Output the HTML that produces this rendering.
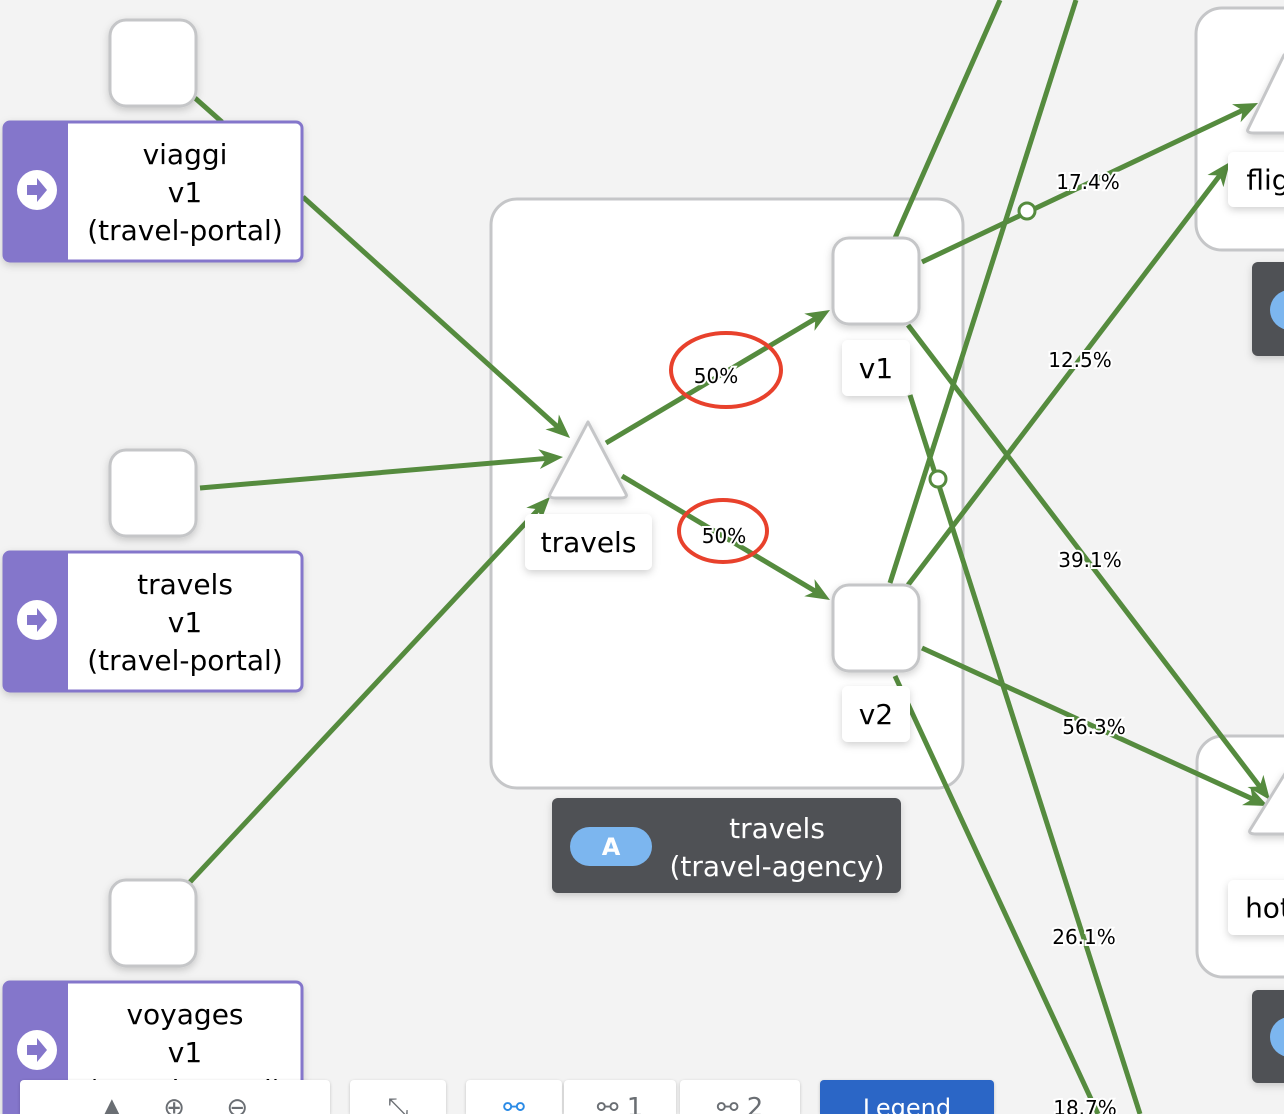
<!DOCTYPE html>
<html><head><meta charset="utf-8"><style>
html,body{margin:0;padding:0;background:#f3f3f3;width:1284px;height:1114px;overflow:hidden;font-family:"DejaVu Sans","Liberation Sans",sans-serif;position:relative}
svg{display:block;position:absolute;left:0;top:0}
.btn{position:absolute;top:1080px;height:34px;background:#fff;border-radius:4px 4px 0 0;box-shadow:0 1px 3px rgba(0,0,0,.2);overflow:hidden;color:#6a6e73;font-size:26px;line-height:56px;text-align:center}
</style></head><body>
<svg id="g" width="1284" height="1114" xmlns="http://www.w3.org/2000/svg">
<defs>
<filter id="sh" x="-20%" y="-20%" width="140%" height="150%"><feDropShadow dx="0" dy="3" stdDeviation="4" flood-color="#000" flood-opacity="0.18"/></filter>
</defs>
<g id="boxes"></g>
<g id="edges"></g>
<g id="nodes"></g>
</svg>
<div class="btn" style="left:20px;width:310px">▲&nbsp;&nbsp;&nbsp;&nbsp;&nbsp;⊕&nbsp;&nbsp;&nbsp;&nbsp;&nbsp;⊖</div>
<div class="btn" style="left:350px;width:96px">⤡</div>
<div class="btn" style="left:466px;width:96px;color:#2b8be6">⚯</div>
<div class="btn" style="left:564px;width:112px">⚯ 1</div>
<div class="btn" style="left:680px;width:120px">⚯ 2</div>
<div class="btn" style="left:820px;width:174px;background:#2b66c6;color:#fff;font-size:24px">Legend</div>
<script>
const NS="http://www.w3.org/2000/svg";
const edgeFrom=[[195,98],[303,197],[200,488],[190,882],[606,443],[622,476],[922,262],[895,238],[890,583],[908,585],[908,325],[922,648],[910,395],[895,676]];
const edgeTo=[[222,122],[570,438],[563,457],[550,497],[830,310],[830,600],[1258,103],[1000,0],[1076,0],[1230,162],[1270,800],[1268,806],[1140,1114],[1098,1114]];
const edgeArrow=[0,1,1,1,1,1,1,0,0,1,1,1,0,0];
const edgeLabels=["","","","","50%","50%","17.4%","","","12.5%","39.1%","56.3%","26.1%","18.7%"];
const labelPos=[[0,0],[0,0],[0,0],[0,0],[716,376],[724,536],[1088,182],[0,0],[0,0],[1080,360],[1090,560],[1094,727],[1084,937],[1085,1108]];
function el(t,a,p,txt){const e=document.createElementNS(NS,t);for(const k in a)e.setAttribute(k,a[k]);if(txt!==undefined)e.textContent=txt;p.appendChild(e);return e;}
const B=document.getElementById('boxes'),E=document.getElementById('edges'),N=document.getElementById('nodes');
let ab=el('rect',{x:491,y:199,width:472,height:589,rx:26,fill:'#fff',stroke:'#c5c6c8','stroke-width':3},B);

let fb=el('rect',{x:1196,y:8,width:120,height:242,rx:26,fill:'#fff',stroke:'#c5c6c8','stroke-width':3},B);

let hb=el('rect',{x:1197,y:736,width:120,height:241,rx:26,fill:'#fff',stroke:'#c5c6c8','stroke-width':3},B);

for(let i=0;i<edgeFrom.length;i++){
 const [x1,y1]=edgeFrom[i],[x2,y2]=edgeTo[i];
 const dx=x2-x1,dy=y2-y1,L=Math.hypot(dx,dy),ux=dx/L,uy=dy/L;
 const ex=edgeArrow[i]?x2-ux*14:x2, ey=edgeArrow[i]?y2-uy*14:y2;
 const l=el('line',{x1:x1,y1:y1,x2:ex,y2:ey,stroke:'#558b3e','stroke-width':5},E);
 
 
 if(edgeArrow[i]){
  const bx=x2-ux*24,by=y2-uy*24,px=-uy,py=ux,nx=x2-ux*17,ny=y2-uy*17;
  const a=el('polygon',{points:`${x2},${y2} ${bx+px*10},${by+py*10} ${nx},${ny} ${bx-px*10},${by-py*10}`,fill:'#558b3e'},E);
  
  
 }
}
[[1027,211],[938,479]].forEach((c,i)=>{const k=el('circle',{cx:c[0],cy:c[1],r:8,fill:'#fff',stroke:'#558b3e','stroke-width':3},E);});
for(let i=0;i<edgeLabels.length;i++){if(!edgeLabels[i])continue;
 const t=el('text',{x:labelPos[i][0],y:labelPos[i][1]+7,'text-anchor':'middle','font-size':20,fill:'#000',stroke:'#fff','stroke-width':4,'paint-order':'stroke'},E,edgeLabels[i]);
 
 
}
el('ellipse',{cx:726,cy:370,rx:55,ry:37,fill:'none',stroke:'#e8412c','stroke-width':4},E);
el('ellipse',{cx:723,cy:531,rx:44,ry:31,fill:'none',stroke:'#e8412c','stroke-width':4},E);
function sq(x,y,name){const r=el('rect',{x:x,y:y,width:86,height:86,rx:16,fill:'#fff',stroke:'#c5c6c8','stroke-width':3,filter:'url(#sh)'},N);}
sq(110,20,'viaggi-workload-node');sq(110,450,'travels-portal-workload-node');sq(110,880,'voyages-workload-node');
sq(833,238,'v1-workload-node');sq(833,585,'v2-workload-node');
function lab(x,y,w,h,lines,name,fs){const g=el('g',{},N);
 el('rect',{x:x,y:y,width:w,height:h,rx:6,fill:'#fff',filter:'url(#sh)'},g);
 lines.forEach((s,i)=>el('text',{x:x+w/2,y:y+h/2+10+(i-(lines.length-1)/2)*38,'text-anchor':'middle','font-size':fs||28,fill:'#000'},g,s));}
function portal(y,lines,name){const g=el('g',{filter:'url(#sh)'},N);
 el('rect',{x:4,y:y,width:298,height:139,rx:6,fill:'#fff',stroke:'#8476cb','stroke-width':3},g);
 el('path',{d:`M10,${y} H68 V${y+139} H10 a6,6 0 0 1 -6,-6 V${y+6} a6,6 0 0 1 6,-6z`,fill:'#8476cb'},g);
 el('circle',{cx:37,cy:y+68,r:20,fill:'#fff'},g);
 el('path',{d:`M27,${y+63} h10 v-7 l10,12 l-10,12 v-7 h-10z`,fill:'#8476cb'},g);
 lines.forEach((s,i)=>el('text',{x:185,y:y+42+i*38,'text-anchor':'middle','font-size':28,fill:'#000'},g,s));}
portal(122,['viaggi','v1','(travel-portal)'],'viaggi-portal-box');
portal(552,['travels','v1','(travel-portal)'],'travels-portal-box');
portal(982,['voyages','v1','(travel-portal)'],'voyages-portal-box');
function tri(ax,ay,hw,h,name){const p=el('path',{d:`M${ax},${ay} L${ax+hw},${ay+h} Q${ax+hw+2},${ay+h+4} ${ax+hw-6},${ay+h+4} L${ax-hw+6},${ay+h+4} Q${ax-hw-2},${ay+h+4} ${ax-hw},${ay+h} Z`,fill:'#fff',stroke:'#c5c6c8','stroke-width':3,'stroke-linejoin':'round',filter:'url(#sh)'},N);}
tri(588,422,38,72,'travels-service-node');
tri(1284,55,36,74,'flights-service-node');
tri(1286,772,36,58,'hotels-service-node');
lab(525,514,127,56,['travels'],'travels-service-label');
lab(842,340,68,56,['v1'],'v1-label');
lab(842,686,68,56,['v2'],'v2-label');
lab(1228,152,80,55,['flig'],'flights-label');
lab(1228,880,80,55,['hot'],'hotels-label');
function dark(x,y,w,h,name){const g=el('g',{},N);el('rect',{x:x,y:y,width:w,height:h,rx:6,fill:'#4f5155',filter:'url(#sh)'},g);return g;}
let dg=dark(552,798,349,95,'travels-app-label');
el('rect',{x:570,y:827,width:82,height:39,rx:19.5,fill:'#7cb6ef'},dg);
el('text',{x:611,y:855,'text-anchor':'middle','font-size':24,'font-weight':'bold',fill:'#fff'},dg,'A');
el('text',{x:777,y:838,'text-anchor':'middle','font-size':28,fill:'#fff'},dg,'travels');
el('text',{x:777,y:876,'text-anchor':'middle','font-size':28,fill:'#fff'},dg,'(travel-agency)');
let d2=dark(1252,262,60,94,'flights-app-label');el('circle',{cx:1290,cy:310,r:20,fill:'#7cb6ef'},d2);
let d3=dark(1252,990,60,93,'hotels-app-label');el('circle',{cx:1290,cy:1037,r:20,fill:'#7cb6ef'},d3);
</script>
</body></html>
